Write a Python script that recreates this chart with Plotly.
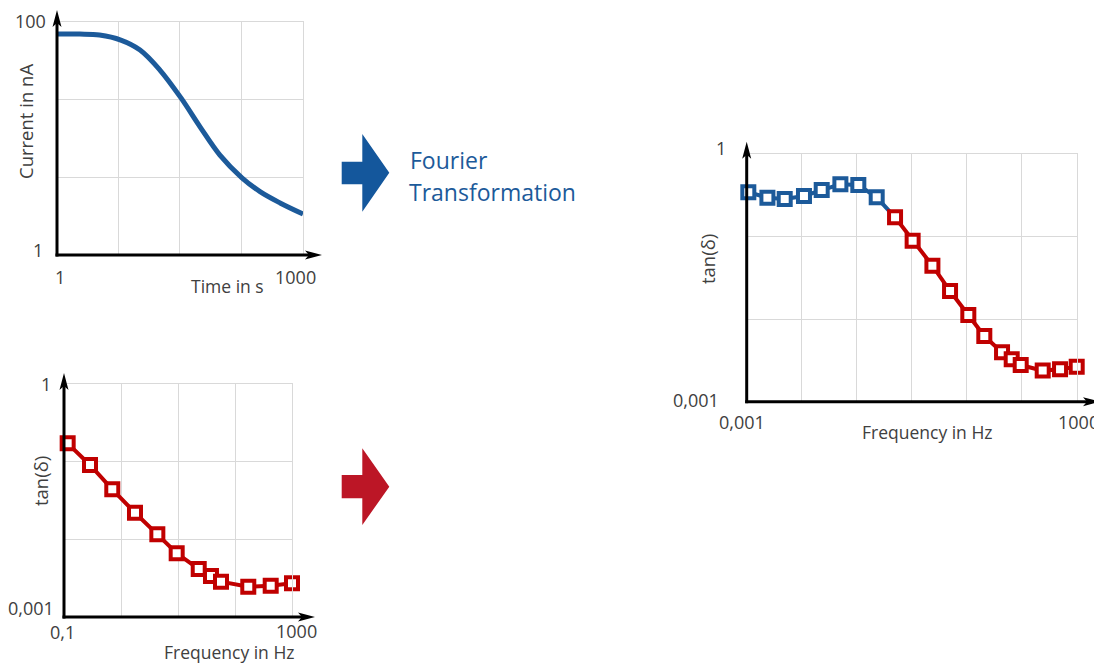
import plotly.graph_objects as go

# ---------------- data ----------------
# Time-domain current measurement (top left)
time_s = [1, 1.9, 3.3, 6.0, 10.3, 18, 32.5, 55.5, 97, 180, 299, 525, 1000]
current_nA = [78.9, 78.8, 77.3, 70, 57.5, 38.7, 22.3, 12.6, 7.2, 4.6, 3.5, 2.8, 2.25]

# tan(delta) from time-domain (bottom left)
freq_low = [0.116, 0.286, 0.703, 1.76, 4.34, 9.48, 23.1, 37.9, 56.8, 171, 423, 1000]
tand_low = [0.172, 0.0906, 0.0441, 0.0220, 0.0116, 0.00661, 0.00415, 0.00337,
            0.00285, 0.00245, 0.00253, 0.00272]

# combined tan(delta) (right): frequency-domain part (blue) + time-domain part (red)
freq_fdm = [0.00107, 0.00238, 0.00491, 0.0110, 0.0231, 0.0505, 0.107, 0.231]
tand_fdm = [0.344, 0.296, 0.285, 0.310, 0.366, 0.430, 0.421, 0.299]
freq_tdm = [0.498, 1.04, 2.38, 4.98, 10.7, 20.9, 43.9, 65.8, 95.9, 241, 498, 1000]
tand_tdm = [0.171, 0.0891, 0.0444, 0.0219, 0.0112, 0.00624, 0.00396, 0.00326,
            0.00278, 0.00238, 0.00247, 0.00265]

# grid positions (equal divisions of each axis)
grid1_x = [1, 5.62, 31.6, 178, 1000]
grid1_y = [1, 4.64, 21.5, 100]
grid2_x = [0.1, 1, 10, 100, 1000]
grid2_y = [0.001, 0.01, 0.1, 1]
grid3_x = [0.001, 0.01, 0.1, 1, 10, 100, 1000]
grid3_y = [0.001, 0.01, 0.1, 1]

# ---------------- style ----------------
PAGE_MARGIN = 8          # default body margin of the html page
W, H = 1102 - PAGE_MARGIN, 663 - PAGE_MARGIN
BLUE = "#1c5a9a"
RED = "#c00000"
ARROW_BLUE = "#14579c"
ARROW_RED = "#bc1626"
GRID = "#d9d9d9"
TXT = "#404040"
FONT = "Open Sans"
NUM = 18      # numeric tick labels
TTL = 17.5    # axis titles
YTTL = 18.5   # rotated axis titles


def X(px):
    return (px - PAGE_MARGIN) / W


def Y(py):
    return 1 - (py - PAGE_MARGIN) / H


fig = go.Figure()

# chart 1
fig.add_trace(go.Scatter(x=time_s, y=current_nA, mode="lines",
                         line=dict(color=BLUE, width=5, shape="spline", smoothing=1.0),
                         xaxis="x", yaxis="y", showlegend=False))

marker_common = dict(symbol="square", size=12, color="white")

# chart 2
fig.add_trace(go.Scatter(x=freq_low, y=tand_low, mode="lines+markers",
                         line=dict(color=RED, width=4),
                         marker=dict(**marker_common, line=dict(color=RED, width=4)),
                         xaxis="x2", yaxis="y2", showlegend=False, cliponaxis=False))

# chart 3 - blue line continues to first red point
fig.add_trace(go.Scatter(x=freq_fdm + freq_tdm[:1], y=tand_fdm + tand_tdm[:1], mode="lines",
                         line=dict(color=BLUE, width=4),
                         xaxis="x3", yaxis="y3", showlegend=False, hoverinfo="skip"))
fig.add_trace(go.Scatter(x=freq_fdm, y=tand_fdm, mode="markers",
                         marker=dict(**marker_common, line=dict(color=BLUE, width=4)),
                         xaxis="x3", yaxis="y3", showlegend=False, cliponaxis=False))
fig.add_trace(go.Scatter(x=freq_tdm, y=tand_tdm, mode="lines+markers",
                         line=dict(color=RED, width=4),
                         marker=dict(**marker_common, line=dict(color=RED, width=4)),
                         xaxis="x3", yaxis="y3", showlegend=False, cliponaxis=False))


def ax(rng, dom, anchor, vals):
    return dict(type="log", range=rng, domain=dom, anchor=anchor,
                tickvals=vals, showticklabels=False, ticks="",
                showgrid=True, gridcolor=GRID, gridwidth=1, zeroline=False,
                showline=True, mirror=True, linecolor=GRID, linewidth=1,
                fixedrange=True)


fig.update_layout(
    width=W, height=H, margin=dict(l=0, r=0, t=0, b=0),
    paper_bgcolor="white", plot_bgcolor="white",
    font=dict(family=FONT, color=TXT, size=17),
    xaxis=ax([0, 3], [X(57), X(303)], "y", grid1_x),
    yaxis=ax([0, 2], [Y(255), Y(22)], "x", grid1_y),
    xaxis2=ax([-1, 3], [X(64), X(292)], "y2", grid2_x),
    yaxis2=ax([-3, 0], [Y(617), Y(384)], "x2", grid2_y),
    xaxis3=ax([-3, 3], [X(746.7), X(1076.7)], "y3", grid3_x),
    yaxis3=ax([-3, 0], [Y(401.7), Y(154)], "x3", grid3_y),
)

shapes = []


def poly(pts, color):
    d = "M " + " L ".join(f"{X(a):.5f},{Y(b):.5f}" for a, b in pts) + " Z"
    return dict(type="path", path=d, xref="paper", yref="paper",
                fillcolor=color, line=dict(width=0), layer="above")


def axes_arrows(ox, oy, xtip, ytip):
    s = []
    s.append(dict(type="line", xref="paper", yref="paper", x0=X(ox - 1.5), y0=Y(oy),
                  x1=X(xtip - 8), y1=Y(oy), line=dict(color="black", width=3), layer="above"))
    s.append(dict(type="line", xref="paper", yref="paper", x0=X(ox), y0=Y(oy + 1.5),
                  x1=X(ox), y1=Y(ytip + 8), line=dict(color="black", width=3), layer="above"))
    s.append(poly([(xtip, oy), (xtip - 17, oy - 4.5), (xtip - 13, oy), (xtip - 17, oy + 4.5)], "black"))
    s.append(poly([(ox, ytip), (ox - 4.5, ytip + 17), (ox, ytip + 13), (ox + 4.5, ytip + 17)], "black"))
    return s


shapes += axes_arrows(57, 255, 322, 10)
shapes += axes_arrows(64, 617, 315, 373)
shapes += axes_arrows(746.7, 401.7, 1100, 141.7)

# big block arrows
shapes.append(poly([(341.7, 161.7), (362.3, 161.7), (362.3, 134), (389.3, 172.7),
                    (362.3, 211.7), (362.3, 184.3), (341.7, 184.3)], ARROW_BLUE))
shapes.append(poly([(341.7, 475), (362.3, 475), (362.3, 448.3), (389.3, 486.7),
                    (362.3, 525), (362.3, 498.3), (341.7, 498.3)], ARROW_RED))

fig.update_layout(shapes=shapes)

ann = []


def label(text, px, py, size=NUM, xanchor="center", color=TXT, angle=0):
    ann.append(dict(text=text, x=X(px), y=Y(py), xref="paper", yref="paper",
                    xanchor=xanchor, yanchor="middle", showarrow=False,
                    textangle=angle, font=dict(family=FONT, size=size, color=color)))


# chart 1 labels
label("100", 48, 21, xanchor="right")
label("1", 45, 250, xanchor="right")
label("1", 60, 277)
label("1000", 295, 277)
label("Time in s", 227, 286, size=TTL)
label("Current in nA", 25, 122, size=YTTL, angle=-90)

# chart 2 labels
label("1", 53, 384, xanchor="right")
label("0,001", 56, 608, xanchor="right")
label("0,1", 62, 632)
label("1000", 296, 631)
label("Frequency in Hz", 229, 652, size=TTL)
label("tan(δ)", 40, 481, size=YTTL, angle=-90)

# chart 3 labels
label("1", 728, 148, xanchor="right")
label("0,001", 721, 400, xanchor="right")
label("0,001", 742, 422)
label("1000", 1078, 422)
label("Frequency in Hz", 927, 432, size=TTL)
label("tan(δ)", 707, 259, size=YTTL, angle=-90)

# Fourier text
label("Fourier", 408, 160, size=23, xanchor="left", color=BLUE)
label("Transformation", 407, 192, size=23, xanchor="left", color=BLUE)

fig.update_layout(annotations=ann)

fig.write_html("out.html")
